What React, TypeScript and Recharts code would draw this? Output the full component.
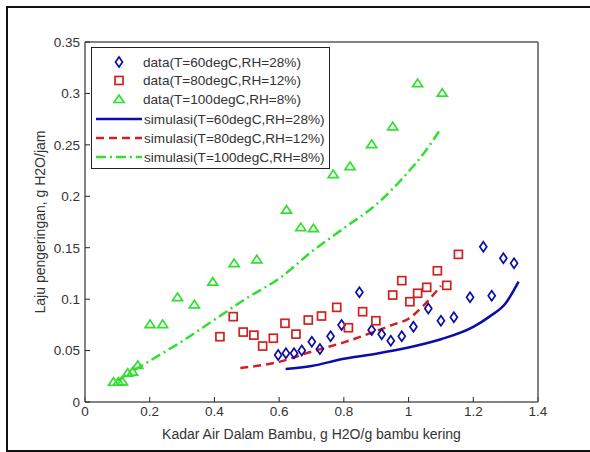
import { ComposedChart, Line, Scatter, XAxis, YAxis } from "recharts";

const data60X = [0.597, 0.621, 0.646, 0.67, 0.701, 0.726, 0.759, 0.793, 0.848, 0.886, 0.917, 0.945, 0.979, 1.015, 1.061, 1.1, 1.14, 1.19, 1.231, 1.257, 1.293, 1.326];
const data60Y = [0.0457, 0.0473, 0.0473, 0.05, 0.0586, 0.0515, 0.064, 0.0748, 0.1066, 0.07, 0.0658, 0.0596, 0.064, 0.0732, 0.091, 0.079, 0.0823, 0.1018, 0.151, 0.1033, 0.1397, 0.1348];

const data80X = [0.417, 0.458, 0.489, 0.522, 0.549, 0.582, 0.618, 0.652, 0.69, 0.731, 0.778, 0.814, 0.858, 0.899, 0.951, 0.979, 1.004, 1.028, 1.056, 1.089, 1.118, 1.154];
const data80Y = [0.0635, 0.083, 0.068, 0.065, 0.0544, 0.062, 0.0765, 0.066, 0.0797, 0.0836, 0.092, 0.0722, 0.0878, 0.079, 0.104, 0.118, 0.0975, 0.1057, 0.1115, 0.1276, 0.1134, 0.1435];

const data100X = [0.088, 0.103, 0.116, 0.132, 0.147, 0.163, 0.201, 0.24, 0.286, 0.338, 0.395, 0.461, 0.531, 0.623, 0.667, 0.706, 0.767, 0.819, 0.886, 0.951, 1.028, 1.104];
const data100Y = [0.0197, 0.0197, 0.02, 0.0285, 0.0295, 0.036, 0.0758, 0.0758, 0.102, 0.095, 0.117, 0.135, 0.1387, 0.187, 0.17, 0.169, 0.2216, 0.2294, 0.2508, 0.268, 0.31, 0.3007];

// model curves
const sim60X = [0.62, 0.7, 0.8, 0.9, 1.0, 1.1, 1.2, 1.25, 1.3, 1.34];
const sim60Y = [0.032, 0.035, 0.042, 0.047, 0.053, 0.061, 0.073, 0.083, 0.096, 0.117];

const sim80X = [0.48, 0.55, 0.6, 0.7, 0.8, 0.9, 0.95, 1.0, 1.05, 1.1];
const sim80Y = [0.033, 0.036, 0.039, 0.049, 0.058, 0.069, 0.075, 0.081, 0.095, 0.113];

const sim100X = [0.1, 0.2, 0.3, 0.4, 0.5, 0.6, 0.7, 0.8, 0.9, 1.0, 1.05, 1.1];
const sim100Y = [0.021, 0.04, 0.059, 0.08, 0.101, 0.12, 0.146, 0.169, 0.192, 0.224, 0.243, 0.266];

const xTicks = [0, 0.2, 0.4, 0.6, 0.8, 1, 1.2, 1.4];
const yTicks = [0, 0.05, 0.1, 0.15, 0.2, 0.25, 0.3, 0.35];

const legendLabels = [
  "data(T=60degC,RH=28%)",
  "data(T=80degC,RH=12%)",
  "data(T=100degC,RH=8%)",
  "simulasi(T=60degC,RH=28%)",
  "simulasi(T=80degC,RH=12%)",
  "simulasi(T=100degC,RH=8%)",
];

const BLUE = "#0c0ca8";
const RED = "#d02020";
const GREEN = "#2fe02f";
const AXIS = "#5a5a5a";
const TEXT = "#333";
const FONT = "'Liberation Sans', Arial, sans-serif";

const zip = (xs: number[], ys: number[]) => xs.map((x, i) => ({ x, y: ys[i] }));

function Diamond({ cx, cy }: any) {
  return (
    <path
      d={`M${cx},${cy - 5} L${cx + 3.5},${cy} L${cx},${cy + 5} L${cx - 3.5},${cy} Z`}
      fill="none"
      stroke={BLUE}
      strokeWidth={1.7}
    />
  );
}

function Square({ cx, cy }: any) {
  return <rect x={cx - 4} y={cy - 4} width={8} height={8} fill="none" stroke={RED} strokeWidth={1.7} />;
}

function Triangle({ cx, cy }: any) {
  return (
    <path
      d={`M${cx},${cy - 4} L${cx + 5},${cy + 3.5} L${cx - 5},${cy + 3.5} Z`}
      fill="none"
      stroke={GREEN}
      strokeWidth={1.7}
    />
  );
}

function LegendBox() {
  const rows = [15, 33.5, 52, 72, 91, 110];
  return (
    <svg
      width={240}
      height={123}
      style={{ position: "absolute", left: 91, top: 47, fontFamily: FONT }}
    >
      <rect x={0.5} y={0.5} width={238} height={121} fill="#fff" stroke="#222" strokeWidth={1} />
      <Diamond cx={28} cy={rows[0]} />
      <Square cx={28} cy={rows[1]} />
      <Triangle cx={28} cy={rows[2]} />
      <line x1={5} x2={51} y1={rows[3]} y2={rows[3]} stroke={BLUE} strokeWidth={2.5} />
      <line x1={5} x2={51} y1={rows[4]} y2={rows[4]} stroke={RED} strokeWidth={2.5} strokeDasharray="8 5" />
      <line x1={5} x2={51} y1={rows[5]} y2={rows[5]} stroke={GREEN} strokeWidth={2.5} strokeDasharray="10 4 2 4" />
      {legendLabels.map((t, i) => (
        <text key={t} x={i < 3 ? 52 : 53} y={rows[i] + 4.8} fontSize={13.6} fill={TEXT}>
          {t}
        </text>
      ))}
    </svg>
  );
}

export default function App() {
  const tickStyle = { fill: TEXT, fontSize: 13.5, fontFamily: FONT };
  return (
    <div style={{ position: "absolute", left: 0, top: 0, width: 590, height: 452, background: "#fff", overflow: "hidden" }}>
      <div
        style={{
          position: "absolute",
          left: 6,
          top: 6,
          width: 600,
          height: 442,
          border: "2px solid #111",
        }}
      />
      <ComposedChart
        width={590}
        height={452}
        margin={{ top: 41, right: 51, bottom: 0, left: 0 }}
        style={{ position: "absolute", left: 0, top: 0 }}
      >
        <XAxis
          xAxisId={0}
          dataKey="x"
          type="number"
          domain={[0, 1.4]}
          ticks={xTicks}
          height={50}
          tickSize={-5}
          tickMargin={9}
          tick={tickStyle}
          stroke={AXIS}
          axisLine={{ stroke: AXIS, strokeWidth: 1.5 }}
          tickLine={{ stroke: "#222" }}
          label={{
            value: "Kadar Air Dalam Bambu, g H2O/g bambu kering",
            position: "insideBottom",
            offset: 13,
            fill: TEXT,
            fontSize: 14,
            fontFamily: FONT,
          }}
        />
        <XAxis
          xAxisId="top"
          orientation="top"
          dataKey="x"
          type="number"
          domain={[0, 1.4]}
          ticks={xTicks}
          height={1}
          tickSize={-5}
          tick={false}
          axisLine={{ stroke: AXIS, strokeWidth: 1.5 }}
          tickLine={{ stroke: "#222" }}
        />
        <YAxis
          yAxisId={0}
          type="number"
          domain={[0, 0.35]}
          ticks={yTicks}
          width={85}
          tickSize={-5}
          tickMargin={10}
          tick={tickStyle}
          axisLine={{ stroke: AXIS, strokeWidth: 1.5 }}
          tickLine={{ stroke: "#222" }}
          label={{
            value: "Laju pengeringan, g H2O/jam",
            angle: -90,
            position: "center",
            dx: -2,
            fill: TEXT,
            fontSize: 14,
            fontFamily: FONT,
          }}
        />
        <YAxis
          yAxisId="right"
          orientation="right"
          type="number"
          domain={[0, 0.35]}
          ticks={yTicks}
          width={1}
          tickSize={-5}
          tick={false}
          axisLine={{ stroke: AXIS, strokeWidth: 1.5 }}
          tickLine={{ stroke: "#222" }}
        />
        <Line
          data={zip(sim60X, sim60Y)}
          dataKey="y"
          type="monotone"
          stroke={BLUE}
          strokeWidth={2.5}
          dot={false}
          activeDot={false}
          isAnimationActive={false}
        />
        <Line
          data={zip(sim80X, sim80Y)}
          dataKey="y"
          type="monotone"
          stroke={RED}
          strokeWidth={2.5}
          strokeDasharray="8 5"
          dot={false}
          activeDot={false}
          isAnimationActive={false}
        />
        <Line
          data={zip(sim100X, sim100Y)}
          dataKey="y"
          type="monotone"
          stroke={GREEN}
          strokeWidth={2.5}
          strokeDasharray="10 4 2 4"
          dot={false}
          activeDot={false}
          isAnimationActive={false}
        />
        <Scatter data={zip(data60X, data60Y)} dataKey="y" shape={Diamond} isAnimationActive={false} />
        <Scatter data={zip(data80X, data80Y)} dataKey="y" shape={Square} isAnimationActive={false} />
        <Scatter data={zip(data100X, data100Y)} dataKey="y" shape={Triangle} isAnimationActive={false} />
      </ComposedChart>
      <LegendBox />
    </div>
  );
}
